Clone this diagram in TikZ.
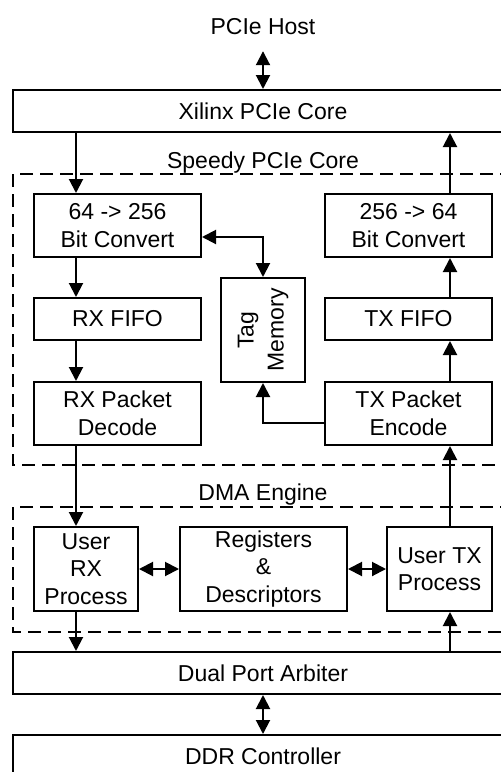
\documentclass[tikz,border=0pt]{standalone}
\usepackage{fontspec}
\setmainfont{Liberation Sans}
\usetikzlibrary{arrows.meta,calc}
\tikzset{
  blk/.style={draw, line width=1pt, inner sep=0pt, align=center},
  grp/.style={draw, line width=1pt, dash pattern=on 6.5pt off 3.5pt},
  flow/.style={line width=1pt, -{Triangle[length=7pt,width=7pt]}},
  bidir/.style={line width=1pt, {Triangle[length=7pt,width=7pt]}-{Triangle[length=7pt,width=7pt]}}
}
\begin{document}
\begin{tikzpicture}[x=0.5pt, y=-0.5pt, font=\fontsize{11.5}{13.8}\selectfont]
\clip (0,0) rectangle (501,772);
\fill[white] (0,0) rectangle (501,772);
% lanes of the rx and tx paths
\coordinate (rx) at (76,0);
\coordinate (tx) at (450,0);
% outer blocks
\node (host) at (263,27) {PCIe Host};
\node[blk, minimum width=250pt, minimum height=21pt] (xilinx) at (263,111) {Xilinx PCIe Core};
\node[blk, minimum width=250pt, minimum height=21pt] (arbiter) at (263,673) {Dual Port Arbiter};
\node[blk, minimum width=250pt, minimum height=21pt] (ddr) at (263,756) {DDR Controller};
% speedy core
\draw[grp] (513,174) -- (13,174) -- (13,465) -- (513,465);
\node[inner sep=1pt] (speedy) at (263,163) {Speedy PCIe Core};
\node[blk, minimum width=83.5pt, minimum height=31.5pt] (convin) at (117.5,225.5) {64 -> 256\\Bit Convert};
\node[blk, minimum width=83.5pt, minimum height=31.5pt] (convout) at (408.5,225.5) {256 -> 64\\Bit Convert};
\node[blk, minimum width=83.5pt, minimum height=21pt] (rxfifo) at (117.5,319) {RX FIFO};
\node[blk, minimum width=83.5pt, minimum height=21pt] (txfifo) at (408.5,319) {TX FIFO};
\node[blk, minimum width=83.5pt, minimum height=31.5pt] (rxdec) at (117.5,413.5) {RX Packet\\Decode};
\node[blk, minimum width=83.5pt, minimum height=31.5pt] (txenc) at (408.5,413.5) {TX Packet\\Encode};
\node[blk, minimum width=42pt, minimum height=52pt] (tag) at (263,330) {};
\node[rotate=90, align=center, font=\fontsize{11.5}{15}\selectfont] (taglabel) at (tag.center) {Tag\\Memory};
% dma engine
\draw[grp] (513,507) -- (13,507) -- (13,632) -- (513,632);
\node[inner sep=1pt] (dma) at (263,495) {DMA Engine};
\node[blk, minimum width=52pt, minimum height=42pt] (userrx) at (86,569) {User\\RX\\Process};
\node[blk, minimum width=83.5pt, minimum height=42pt] (regs) at (263.5,569) {Registers\\\&\\Descriptors};
\node[blk, minimum width=52.5pt, minimum height=42pt] (usertx) at (439.5,569) {User TX\\Process};
% connectors
\draw[bidir] ($(host.south)+(0,9)$) coordinate (hostend) -- (xilinx.north);
\draw[flow] (xilinx.south -| rx) -- (convin.north -| rx);
\draw[flow] (convin.south -| rx) -- (rxfifo.north -| rx);
\draw[flow] (rxfifo.south -| rx) -- (rxdec.north -| rx);
\draw[flow] (rxdec.south -| rx) -- (userrx.north -| rx);
\draw[flow] (userrx.south -| rx) -- (arbiter.north -| rx);
\draw[flow] (arbiter.north -| tx) -- (usertx.south -| tx);
\draw[flow] (usertx.north -| tx) -- (txenc.south -| tx);
\draw[flow] (txenc.north -| tx) -- (txfifo.south -| tx);
\draw[flow] (txfifo.north -| tx) -- (convout.south -| tx);
\draw[flow] (convout.north -| tx) -- (xilinx.south -| tx);
\draw[bidir] ($(convin.east)+(0,11.5)$) -| (tag.north);
\draw[flow] ($(txenc.west)+(0,9.5)$) -| (tag.south);
\draw[bidir] (userrx.east) -- (regs.west);
\draw[bidir] (regs.east) -- (usertx.west);
\draw[bidir] (arbiter.south) -- (ddr.north);
\end{tikzpicture}
\end{document}
